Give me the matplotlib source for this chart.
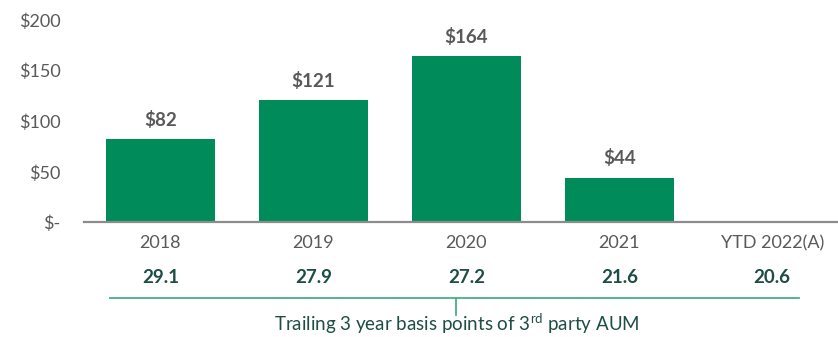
import numpy as np
import matplotlib
matplotlib.use("Agg")
import matplotlib.pyplot as plt

plt.rcParams['font.family'] = ['Lato', 'DejaVu Sans']

# Net flows by year ($ bn) and trailing fee rate (bps)
years = ['2018', '2019', '2020', '2021', 'YTD 2022(A)']
flows = [82, 121, 164, 44, np.nan]
bps = [29.1, 27.9, 27.2, 21.6, 20.6]
ytick_vals = [0, 50, 100, 150, 200]
ytick_labels = ['$-', '$50', '$100', '$150', '$200']
caption = 'Trailing 3 year basis points of 3$^{\\mathregular{rd}}$ party AUM'

bar_color = '#008C5A'
gray = '#595959'
teal = '#1E4D45'
line_green = '#45B088'

fig = plt.figure(figsize=(8.38, 3.37), dpi=100)
ax = fig.add_axes([0.1002, 0.3398, 0.8998, 0.6009])

x = np.arange(len(years))
bars = ax.bar(x, flows, width=0.71, color=bar_color, zorder=2)

for xi, v in zip(x, flows):
    if np.isnan(v):
        continue
    ax.annotate(f'${v:.0f}', (xi, v), xytext=(0, 14), textcoords='offset points',
                ha='center', va='center', fontsize=13.5, fontweight='bold', color=gray)

ax.set_xlim(-0.5, 4.43)
ax.set_ylim(0, 200)
ax.set_yticks(ytick_vals)
ax.set_yticklabels(ytick_labels)
ax.set_xticks(x)
ax.set_xticklabels(years)
ax.tick_params(axis='both', length=0, labelsize=13, labelcolor=gray)
ax.tick_params(axis='y', pad=17)
ax.tick_params(axis='x', pad=9)

for s in ['top', 'right', 'left']:
    ax.spines[s].set_visible(False)
ax.spines['bottom'].set_color('#8C8C8C')
ax.spines['bottom'].set_linewidth(1.6)

# basis-point row under the year labels
trans = ax.get_xaxis_transform()
for xi, b in zip(x, bps):
    ax.text(xi, -0.274, f'{b:.1f}', transform=trans, ha='center', va='center',
            fontsize=13.5, fontweight='bold', color=teal)

# bracket and caption
ax.plot([-0.333, 4.176], [-0.372, -0.372], transform=trans, color=line_green,
        lw=1.3, clip_on=False)
ax.plot([1.935, 1.935], [-0.372, -0.455], transform=trans, color=line_green,
        lw=1.3, clip_on=False)
ax.text(1.935, -0.5, caption, transform=trans, ha='center', va='center',
        fontsize=13.5, color=teal)

fig.savefig('out.png', dpi=100)
